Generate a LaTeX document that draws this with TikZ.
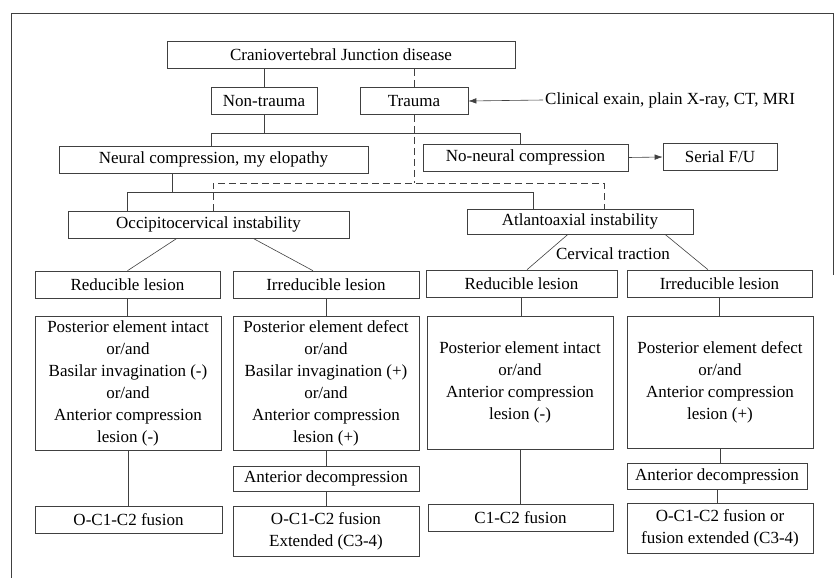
\documentclass[tikz,border=0pt]{standalone}
\usepackage{fontspec}
\setmainfont{Liberation Serif}
\usetikzlibrary{arrows.meta}

\begin{document}
\begin{tikzpicture}[
      x=1pt, y=-1pt,
      font=\rmfamily\fontsize{17}{22}\selectfont,
      box/.style={draw=black!75, line width=0.6pt, align=center, inner sep=2pt, minimum height=27pt},
      bigbox/.style={box, minimum width=186pt, minimum height=134pt},
      link/.style={draw=black!75, line width=0.6pt},
      dashlink/.style={link, dash pattern=on 7pt off 4pt},
      arrowlink/.style={link, -{Latex[length=8pt,width=5.5pt]}},
  ]
    \useasboundingbox (0,0) rectangle (835,578);
    \draw[link] (11,578) -- (11,13) -- (833,13) -- (833,275);

    \node[box, minimum width=348pt] (cvj) at (341,55) {Craniovertebral Junction disease};
    \node[box, minimum width=106pt] (nontr) at (264,101) {Non-trauma};
    \node[box, minimum width=108pt] (trauma) at (414,101) {Trauma};
    \node[anchor=west, inner sep=2pt] (clin) at (543,100) {Clinical exain, plain X-ray, CT, MRI};

    \node[box, minimum width=309pt] (neural) at (213.5,159.5) {Neural compression, my elopathy};
    \node[box, minimum width=205pt] (noneural) at (525.5,157.5) {No-neural compression};
    \node[box, minimum width=114pt] (serial) at (720,157) {Serial F/U};

    \node[box, minimum width=281pt] (occ) at (208.5,224.5) {Occipitocervical instability};
    \node[box, minimum width=226pt, minimum height=25pt] (atl) at (580,221.5) {Atlantoaxial instability};
    \node[inner sep=1pt] (ctrac) at (613,254) {Cervical traction};

    \node[box, minimum width=185pt] (redL) at (127.5,284.5) {Reducible lesion};
    \node[box, minimum width=186pt] (irrL) at (326,284.5) {Irreducible lesion};
    \node[box, minimum width=191pt] (redR) at (521.5,283.5) {Reducible lesion};
    \node[box, minimum width=185pt] (irrR) at (719.5,283.5) {Irreducible lesion};

    \node[bigbox] (postL1) at (128,383) {Posterior element intact\\or/and\\Basilar invagination (-)\\or/and\\Anterior compression\\lesion (-)};
    \node[bigbox] (postL2) at (326,383) {Posterior element defect\\or/and\\Basilar invagination (+)\\or/and\\Anterior compression\\lesion (+)};
    \node[bigbox, minimum height=133pt] (postR1) at (520,382.5) {Posterior element intact\\or/and\\Anterior compression\\lesion (-)};
    \node[bigbox, minimum height=132pt] (postR2) at (720,382) {Posterior element defect\\or/and\\Anterior compression\\lesion (+)};

    \node[box, minimum width=186pt, minimum height=25pt] (adecL) at (326,478.5) {Anterior decompression};
    \node[box, minimum width=180pt, minimum height=26pt] (adecR) at (717,476) {Anterior decompression};

    \node[box, minimum width=187pt] (fusL1) at (128.5,519.5) {O-C1-C2 fusion};
    \node[box, minimum width=186pt, minimum height=50pt] (fusL2) at (326,531) {O-C1-C2 fusion\\Extended (C3-4)};
    \node[box, minimum width=185pt] (fusR1) at (520.5,517.5) {C1-C2 fusion};
    \node[box, minimum width=186pt, minimum height=50pt] (fusR2) at (720,528) {O-C1-C2 fusion or\\fusion extended (C3-4)};

    \coordinate (n1) at (211,133);
    \coordinate (n2) at (520,133);
    \coordinate (m0) at (172,192);
    \coordinate (m1) at (127,192);
    \coordinate (m2) at (533,192);
    \coordinate (d1) at (213,183);
    \coordinate (d2) at (604,183);

    \draw[link] (cvj.south -| nontr) -- (nontr.north);
    \draw[dashlink] (cvj.south -| trauma) -- (trauma.north);
    \draw[arrowlink] (clin.west) -- (trauma.east);

    \draw[link] (nontr.south) -- (nontr |- n1);
    \draw[link] (neural.north -| n1) -- (n1) -- (n2) -- (noneural.north -| n2);
    \draw[arrowlink] (noneural.east) -- (serial.west);

    \draw[dashlink] (trauma.south) -- (trauma |- d1);
    \draw[dashlink] (occ.north -| d1) -- (d1) -- (d2) -- (atl.north -| d2);

    \draw[link] (neural.south -| m0) -- (m0);
    \draw[link] (occ.north -| m1) -- (m1) -- (m2) -- (atl.north -| m2);

    \draw[link] ([xshift=-31.5pt]occ.south) -- (redL.north);
    \draw[link] ([xshift=44.5pt]occ.south) -- ([xshift=-13pt]irrL.north);
    \draw[link] ([xshift=-12pt]atl.south) -- ([xshift=5.5pt]redR.north);
    \draw[link] ([xshift=85pt]atl.south) -- ([xshift=-11.5pt]irrR.north);

    \draw[link] (redL.south) -- (redL |- postL1.north);
    \draw[link] (postL1.south) -- (postL1 |- fusL1.north);
    \draw[link] (irrL.south) -- (irrL |- postL2.north);
    \draw[link] (postL2.south) -- (postL2 |- adecL.north);
    \draw[link] (adecL.south) -- (adecL |- fusL2.north);
    \draw[link] (redR.south) -- (redR |- postR1.north);
    \draw[link] (postR1.south) -- (postR1 |- fusR1.north);
    \draw[link] (irrR.south) -- (irrR |- postR2.north);
    \draw[link] (postR2.south) -- (postR2 |- adecR.north);
    \draw[link] (adecR.south) -- (adecR |- fusR2.north);
\end{tikzpicture}
\end{document}
